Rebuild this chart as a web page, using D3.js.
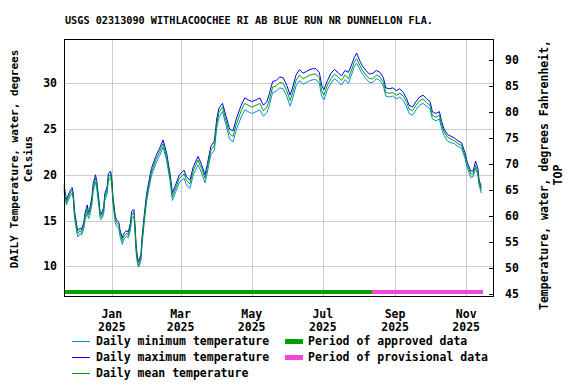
<!DOCTYPE html>
<html>
<head>
<meta charset="utf-8">
<script src="https://cdn.jsdelivr.net/npm/d3@7"></script>
<style>
  body { margin: 0; background: #fff; }
  text { font-family: "DejaVu Sans Mono", "Liberation Mono", monospace; font-weight: bold; fill: #000; }
</style>
</head>
<body>
<div id="chart"></div>
<script>

// data (water temperature, deg C)
var days = [
  "2024-11-21","2024-11-23","2024-11-26","2024-11-28","2024-11-29","2024-11-30","2024-12-02","2024-12-03",
  "2024-12-05","2024-12-06","2024-12-08","2024-12-09","2024-12-11","2024-12-12","2024-12-13","2024-12-15",
  "2024-12-16","2024-12-18","2024-12-19","2024-12-21","2024-12-22","2024-12-23","2024-12-25","2024-12-26",
  "2024-12-28","2024-12-29","2024-12-31","2025-01-01","2025-01-02","2025-01-04","2025-01-05","2025-01-07",
  "2025-01-08","2025-01-10","2025-01-11","2025-01-12","2025-01-14","2025-01-15","2025-01-17","2025-01-18",
  "2025-01-20","2025-01-21","2025-01-22","2025-01-23","2025-01-24","2025-01-26","2025-01-27","2025-01-29",
  "2025-01-31","2025-02-02","2025-02-04","2025-02-08","2025-02-11","2025-02-14","2025-02-17","2025-02-20",
  "2025-02-22","2025-02-25","2025-02-28","2025-03-04","2025-03-06","2025-03-09","2025-03-12","2025-03-16",
  "2025-03-19","2025-03-22","2025-03-24","2025-03-27","2025-03-30","2025-04-01","2025-04-03","2025-04-06",
  "2025-04-09","2025-04-12","2025-04-15","2025-04-18","2025-04-22","2025-04-25","2025-04-28","2025-05-01",
  "2025-05-05","2025-05-08","2025-05-11","2025-05-14","2025-05-16","2025-05-19","2025-05-22","2025-05-25",
  "2025-05-28","2025-05-31","2025-06-03","2025-06-05","2025-06-08","2025-06-11","2025-06-14","2025-06-17",
  "2025-06-20","2025-06-23","2025-06-25","2025-06-28","2025-06-30","2025-07-02","2025-07-05","2025-07-08",
  "2025-07-11","2025-07-14","2025-07-17","2025-07-20","2025-07-23","2025-07-25","2025-07-28","2025-07-30",
  "2025-08-02","2025-08-04","2025-08-07","2025-08-10","2025-08-13","2025-08-16","2025-08-19","2025-08-22",
  "2025-08-24","2025-08-27","2025-08-30","2025-09-02","2025-09-05","2025-09-08","2025-09-11","2025-09-13",
  "2025-09-16","2025-09-19","2025-09-22","2025-09-25","2025-09-28","2025-10-01","2025-10-03","2025-10-06",
  "2025-10-09","2025-10-11","2025-10-13","2025-10-16","2025-10-19","2025-10-22","2025-10-25","2025-10-28",
  "2025-10-31","2025-11-02","2025-11-05","2025-11-07","2025-11-09","2025-11-11","2025-11-12","2025-11-14"
];

var tMean = [
  18.5,17.0,17.9,18.3,17.6,15.7,14.1,13.6, 13.9,13.7,14.5,15.4,16.3,15.6,15.9,17.2,
  18.6,19.6,19.0,16.8,15.6,15.4,16.1,17.6, 18.3,19.7,20.1,19.2,17.2,15.2,14.8,14.5,
  13.7,12.8,13.2,13.4,13.6,13.4,14.3,15.6, 15.9,13.9,11.7,10.6,10.1,11.0,12.8,15.4,
  17.6,19.0,20.3,21.7,22.5,23.4,22.0,19.7, 17.6,18.6,19.6,20.1,19.4,19.0,20.5,21.6,
  20.7,19.6,20.8,22.7,23.2,25.6,26.8,27.4, 25.9,24.5,24.2,25.6,27.0,27.8,27.6,27.4,
  27.6,27.8,27.0,27.4,28.1,29.6,29.7,30.1, 30.0,29.2,28.1,28.9,30.3,30.9,30.5,30.7,
  30.9,31.0,31.0,30.6,29.2,28.7,29.8,30.5, 31.0,30.7,30.3,30.9,30.5,31.2,32.3,32.7,
  31.9,31.4,30.9,30.5,30.5,30.9,30.7,30.1, 29.0,28.9,29.0,28.7,28.9,28.6,27.9,27.2,
  27.0,27.6,28.1,28.3,27.9,27.6,26.5,26.3, 26.5,25.4,24.7,24.1,23.9,23.7,23.4,23.2,
  22.1,21.0,20.1,20.1,21.0,20.3,19.2,18.3
];

var tMin = [
  18.2,16.7,17.6,18.0,17.3,15.3,13.7,13.2, 13.6,13.4,14.1,15.0,15.9,15.2,15.5,16.8,
  18.2,19.2,18.6,16.4,15.2,15.1,15.7,17.2, 17.9,19.3,19.7,18.8,16.8,14.8,14.4,14.1,
  13.3,12.4,12.8,13.1,13.3,13.1,13.9,15.2, 15.5,13.5,11.3,10.3, 9.9,10.6,12.4,15.0,
  17.2,18.6,19.9,21.3,22.1,23.0,21.6,19.3, 17.2,18.2,19.2,19.6,18.9,18.5,20.0,21.1,
  20.2,19.1,20.3,22.2,22.7,25.1,26.3,26.9, 25.4,23.9,23.6,25.0,26.3,27.1,26.9,26.7,
  26.9,27.1,26.4,26.8,27.5,29.0,29.1,29.5, 29.4,28.6,27.5,28.3,29.7,30.3,29.9,30.1,
  30.3,30.4,30.4,30.0,28.6,28.2,29.3,30.0, 30.5,30.2,29.8,30.4,30.0,30.7,31.8,32.2,
  31.5,31.0,30.5,30.1,30.1,30.5,30.3,29.7, 28.6,28.5,28.6,28.3,28.5,28.1,27.4,26.7,
  26.5,27.1,27.6,27.8,27.5,27.2,26.1,25.9, 26.1,25.0,24.3,23.7,23.5,23.4,23.1,22.9,
  21.8,20.7,19.7,19.8,20.7,20.0,18.9,18.0
];

var tMax = [
  18.9,17.3,18.2,18.6,17.9,16.1,14.4,13.9, 14.2,14.0,14.8,15.8,16.7,15.9,16.2,17.6,
  19.0,20.0,19.4,17.2,15.9,15.7,16.4,17.9, 18.7,20.1,20.4,19.6,17.6,15.5,15.1,14.8,
  14.0,13.1,13.5,13.7,13.9,13.7,14.7,16.0, 16.2,14.3,12.1,11.0,10.5,11.3,13.2,15.8,
  18.0,19.4,20.7,22.1,22.9,23.8,22.4,20.1, 18.0,19.0,20.0,20.5,19.8,19.4,20.9,22.0,
  21.1,20.0,21.2,23.1,23.7,26.1,27.3,27.8, 26.4,25.0,24.8,26.2,27.6,28.4,28.2,28.0,
  28.2,28.4,27.6,28.0,28.8,30.2,30.3,30.7, 30.6,29.8,28.7,29.5,30.9,31.5,31.1,31.3,
  31.5,31.6,31.6,31.2,29.8,29.3,30.3,31.1, 31.5,31.2,30.8,31.4,31.2,31.8,32.8,33.3,
  32.4,31.9,31.4,31.0,31.1,31.4,31.2,30.6, 29.5,29.4,29.5,29.2,29.4,29.0,28.3,27.6,
  27.4,28.0,28.5,28.7,28.3,28.0,26.9,26.7, 26.9,25.8,25.0,24.4,24.2,24.0,23.7,23.5,
  22.4,21.3,20.4,20.4,21.5,20.7,19.5,18.6
];

// approval periods
var periodStart = ["2024-11-21", "2025-08-12"];
var periodEnd = ["2025-08-12", "2025-11-15"];
var periodName = ["Period of approved data", "Period of provisional data"];

// axis ticks
var monthTicks = ["2025-01-01","2025-03-01","2025-05-01","2025-07-01","2025-09-01","2025-11-01"];
var monthLabels = ["Jan","Mar","May","Jul","Sep","Nov"];
var yearLabels = ["2025","2025","2025","2025","2025","2025"];
var celsiusTicks = [10, 15, 20, 25, 30];
var fahrenheitTicks = [45, 50, 55, 60, 65, 70, 75, 80, 85, 90];

var seriesNames = ["Daily minimum temperature", "Daily maximum temperature", "Daily mean temperature"];


function renderTempChart() {
    var attrs = {
        svgWidth: 576,
        svgHeight: 384,
        marginTop: 39,
        marginLeft: 64,
        chartWidth: 429,
        chartHeight: 257,
        minColor: '#0a8cd8',
        maxColor: '#0000ff',
        meanColor: '#00a000',
        approvedColor: '#00a000',
        provisionalColor: '#f046dc',
        gridColor: '#cccccc'
    };

    var parse = d3.timeParse('%Y-%m-%d');

    var svg = d3.select('#chart')
        .append('svg')
        .attr('width', attrs.svgWidth)
        .attr('height', attrs.svgHeight);

    var chart = svg.append('g')
        .attr('transform', 'translate(' + attrs.marginLeft + ',' + attrs.marginTop + ')');

    //scales
    var x = d3.scaleTime()
        .domain([parse('2024-11-21'), parse('2025-11-24')])
        .range([0, attrs.chartWidth]);

    var y = d3.scaleLinear()
        .domain([6.75, 34.84])
        .range([attrs.chartHeight, 0]);

    // right axis has its own range on the original plot
    var yF = d3.scaleLinear()
        .domain([44.67, 94.03])
        .range([attrs.chartHeight, 0]);

    //grid
    chart.append('g')
        .selectAll('line.hgrid')
        .data(celsiusTicks)
        .enter()
        .append('line')
        .attr('x1', 0)
        .attr('x2', attrs.chartWidth)
        .attr('y1', function (d) { return Math.round(y(d)) + 0.5; })
        .attr('y2', function (d) { return Math.round(y(d)) + 0.5; })
        .attr('stroke', attrs.gridColor)
        .attr('shape-rendering', 'crispEdges');

    chart.append('g')
        .selectAll('line.vgrid')
        .data(monthTicks)
        .enter()
        .append('line')
        .attr('y1', 0)
        .attr('y2', attrs.chartHeight)
        .attr('x1', function (d) { return Math.round(x(parse(d))) + 0.5; })
        .attr('x2', function (d) { return Math.round(x(parse(d))) + 0.5; })
        .attr('stroke', attrs.gridColor)
        .attr('shape-rendering', 'crispEdges');

    // approval bars along the bottom
    chart.append('g')
        .selectAll('rect')
        .data(periodStart)
        .enter()
        .append('rect')
        .attr('x', function (d) { return x(parse(d)); })
        .attr('width', function (d, i) { return x(parse(periodEnd[i])) - x(parse(d)); })
        .attr('y', attrs.chartHeight - 6)
        .attr('height', 4)
        .attr('fill', function (d, i) { return i == 0 ? attrs.approvedColor : attrs.provisionalColor; })
        .attr('shape-rendering', 'crispEdges');

    //lines
    var rows = days.map(function (d, i) {
        return { date: parse(d), min: tMin[i], max: tMax[i], mean: tMean[i] };
    });

    function lineFor(key) {
        return d3.line()
            .x(function (d) { return x(d.date); })
            .y(function (d) { return y(d[key]); });
    }

    [['min', attrs.minColor], ['max', attrs.maxColor], ['mean', attrs.meanColor]].forEach(function (s) {
        chart.append('path')
            .datum(rows)
            .attr('d', lineFor(s[0]))
            .attr('fill', 'none')
            .attr('stroke', s[1])
            .attr('stroke-width', 1);
    });

    //frame
    chart.append('rect')
        .attr('x', 0.5)
        .attr('y', 0.5)
        .attr('width', attrs.chartWidth)
        .attr('height', attrs.chartHeight)
        .attr('fill', 'none')
        .attr('stroke', '#000')
        .attr('shape-rendering', 'crispEdges');

    //axes
    var leftAxis = chart.append('g')
        .call(d3.axisLeft(y).tickValues(celsiusTicks).tickSize(0).tickPadding(7));
    var rightAxis = chart.append('g')
        .attr('transform', 'translate(' + attrs.chartWidth + ',0)')
        .call(d3.axisRight(yF).tickValues(fahrenheitTicks).tickSizeInner(-4).tickSizeOuter(0).tickPadding(12));
    [leftAxis, rightAxis].forEach(function (a) {
        a.select('.domain').remove();
        a.selectAll('line').attr('stroke', '#000').attr('shape-rendering', 'crispEdges');
        a.selectAll('text').style('font-size', '11.5px').attr('font-family', null);
    });

    var bottom = chart.append('g')
        .selectAll('g')
        .data(monthTicks)
        .enter()
        .append('g')
        .attr('transform', function (d) { return 'translate(' + x(parse(d)) + ',' + attrs.chartHeight + ')'; });
    bottom.append('text')
        .attr('y', 22)
        .attr('text-anchor', 'middle')
        .style('font-size', '11.5px')
        .text(function (d, i) { return monthLabels[i]; });
    bottom.append('text')
        .attr('y', 35)
        .attr('text-anchor', 'middle')
        .style('font-size', '11.5px')
        .text(function (d, i) { return yearLabels[i]; });

    //titles
    svg.append('text')
        .attr('x', 249)
        .attr('y', 24)
        .attr('text-anchor', 'middle')
        .style('font-size', '10.2px')
        .text('USGS 02313090 WITHLACOOCHEE RI AB BLUE RUN NR DUNNELLON FLA.');

    var leftTitle = svg.append('text')
        .attr('transform', 'translate(0,159) rotate(-90)')
        .attr('text-anchor', 'middle')
        .style('font-size', '11px');
    leftTitle.append('tspan').attr('x', 0).attr('y', 18).text('DAILY Temperature, water, degrees');
    leftTitle.append('tspan').attr('x', 0).attr('y', 32).text('Celsius');

    var rightTitle = svg.append('text')
        .attr('transform', 'translate(0,175) rotate(-90)')
        .attr('text-anchor', 'middle')
        .style('font-size', '11.5px');
    rightTitle.append('tspan').attr('x', 0).attr('y', 548).text('Temperature, water, degrees Fahrenheit,');
    rightTitle.append('tspan').attr('x', 0).attr('y', 562).text('TOP');

    //legend
    var legendColors = [attrs.minColor, attrs.maxColor, attrs.meanColor];
    var legend = svg.append('g');
    seriesNames.forEach(function (name, i) {
        var ly = 341 + i * 16;
        legend.append('rect')
            .attr('x', 72).attr('y', ly)
            .attr('width', 18).attr('height', 1)
            .attr('fill', legendColors[i])
            .attr('shape-rendering', 'crispEdges');
        legend.append('text')
            .attr('x', 96)
            .attr('y', ly + 4)
            .style('font-size', '11.5px')
            .text(name);
    });
    periodName.forEach(function (name, i) {
        var ly = 341 + i * 16;
        legend.append('rect')
            .attr('x', 285).attr('y', ly - 2)
            .attr('width', 18).attr('height', 5)
            .attr('fill', i == 0 ? attrs.approvedColor : attrs.provisionalColor);
        legend.append('text')
            .attr('x', 308)
            .attr('y', ly + 4)
            .style('font-size', '11.5px')
            .text(name);
    });
}

renderTempChart();
</script>
</body>
</html>
